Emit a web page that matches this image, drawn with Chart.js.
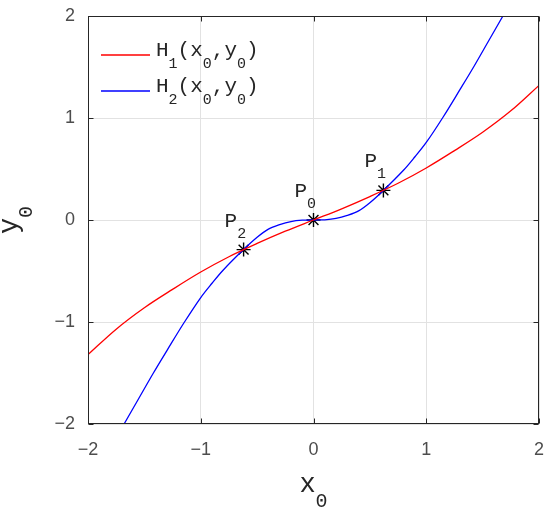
<!DOCTYPE html>
<html lang="en">
<head>
    <meta charset="UTF-8">
    <title>H1 / H2</title>
    <script src="https://cdn.jsdelivr.net/npm/chart.js"></script>
    <style>
        body { margin: 0; background: #fff; }
        #chart-container { width: 550px; height: 511px; position: relative; }
    </style>
</head>
<body>
    <div id="chart-container"><canvas id="hChart"></canvas></div>

    <script>
        const tickValues = [-2, -1, 0, 1, 2];

        // H1(x0,y0) - red
        const redX = [-2, -1.75, -1.5, -1.25, -1, -0.75, -0.5, -0.25, 0, 0.25, 0.5, 0.75, 1, 1.25, 1.5, 1.75, 2];
        const redY = [-1.32, -1.07, -0.86, -0.68, -0.51, -0.36, -0.23, -0.11, 0, 0.11, 0.23, 0.36, 0.51, 0.68, 0.86, 1.07, 1.32];

        // H2(x0,y0) - blue
        const blueX = [-1.8, -1.68, -1.55, -1.42, -1.3, -1.15, -1, -0.9, -0.8, -0.62, -0.5, -0.4, -0.3, -0.2, -0.1, 0,
                       0.1, 0.2, 0.3, 0.4, 0.5, 0.62, 0.8, 0.9, 1, 1.15, 1.3, 1.42, 1.55, 1.68, 1.8];
        const blueY = [-2.23, -2.0, -1.75, -1.5, -1.28, -1.01, -0.76, -0.62, -0.49, -0.29, -0.17, -0.09, -0.045, -0.015, -0.002, 0,
                       0.002, 0.015, 0.045, 0.09, 0.17, 0.29, 0.49, 0.62, 0.76, 1.01, 1.28, 1.5, 1.75, 2.0, 2.23];

        // intersection points P0, P1, P2
        const pointX = [0, 0.62, -0.62];
        const pointY = [0, 0.29, -0.29];
        const pointNames = ['P_0', 'P_1', 'P_2'];

        const legendNames = ['H_1(x_0,y_0)', 'H_2(x_0,y_0)'];
        const xTitle = 'x_0';
        const yTitle = 'y_0';

        const MONO = '"Liberation Mono", "DejaVu Sans Mono", monospace';
        const TEXT = '#262626';

        const toXY = (xs, ys) => xs.map((v, i) => ({ x: v, y: ys[i] }));
        const fmtTick = v => String(v).replace('-', '\u2212');

        // '_' makes the following character a subscript
        function drawRich(ctx, str, x, y, o) {
            const parts = [];
            for (let i = 0; i < str.length; i++) {
                if (str[i] === '_') { parts.push({ t: str[i + 1], sub: true }); i++; }
                else parts.push({ t: str[i], sub: false });
            }
            const mainFont = o.size + 'px ' + MONO;
            const subFont = o.subSize + 'px ' + MONO;
            let total = 0;
            parts.forEach(p => {
                ctx.font = p.sub ? subFont : mainFont;
                p.w = ctx.measureText(p.t).width;
                total += p.w;
            });
            let cx = o.center ? x - total / 2 : x;
            ctx.fillStyle = TEXT;
            ctx.textAlign = 'left';
            ctx.textBaseline = 'alphabetic';
            parts.forEach(p => {
                ctx.font = p.sub ? subFont : mainFont;
                ctx.fillText(p.t, cx, p.sub ? y + o.drop : y);
                cx += p.w;
            });
        }

        const decorations = {
            id: 'decorations',
            afterDraw(chart) {
                const { ctx, chartArea: a, scales } = chart;
                const L = Math.round(a.left) + 0.5, R = Math.round(a.right) - 0.5;
                const T = Math.round(a.top) + 0.5, B = Math.round(a.bottom) - 0.5;
                ctx.save();

                // box + inward ticks
                ctx.strokeStyle = TEXT;
                ctx.lineWidth = 1;
                ctx.strokeRect(L, T, R - L, B - T);
                ctx.beginPath();
                tickValues.forEach(v => {
                    const px = Math.round(scales.x.getPixelForValue(v)) + 0.5;
                    ctx.moveTo(px, B); ctx.lineTo(px, B - 5);
                    ctx.moveTo(px, T); ctx.lineTo(px, T + 5);
                    const py = Math.round(scales.y.getPixelForValue(v)) + 0.5;
                    ctx.moveTo(L, py); ctx.lineTo(L + 5, py);
                    ctx.moveTo(R, py); ctx.lineTo(R - 5, py);
                });
                ctx.stroke();

                // legend
                legendNames.forEach((name, i) => {
                    const ly = a.top + 39 + 36 * i;
                    ctx.strokeStyle = chart.data.datasets[i].borderColor;
                    ctx.lineWidth = 1.3;
                    ctx.beginPath();
                    ctx.moveTo(a.left + 13, ly);
                    ctx.lineTo(a.left + 62, ly);
                    ctx.stroke();
                    drawRich(ctx, name, a.left + 68, ly + 1, { size: 21, subSize: 15, drop: 12 });
                });

                // point labels
                const meta = chart.getDatasetMeta(2);
                meta.data.forEach((pt, i) => {
                    drawRich(ctx, pointNames[i], pt.x - 19, pt.y - 23, { size: 21, subSize: 15, drop: 11 });
                });

                // axis titles
                drawRich(ctx, xTitle, (a.left + a.right) / 2, a.bottom + 68, { size: 27, subSize: 20, drop: 15, center: true });
                ctx.translate(17, (a.top + a.bottom) / 2);
                ctx.rotate(-Math.PI / 2);
                drawRich(ctx, yTitle, 0, 0, { size: 27, subSize: 20, drop: 15, center: true });

                ctx.restore();
            }
        };

        const axisTicks = (pad) => ({
            padding: pad,
            color: '#4d4d4d',
            font: { family: '"Liberation Sans", Arial, sans-serif', size: 18 },
            callback: v => fmtTick(v)
        });

        new Chart(document.getElementById('hChart').getContext('2d'), {
            type: 'line',
            data: {
                datasets: [
                    {
                        label: 'H1',
                        data: toXY(redX, redY),
                        borderColor: '#ff0000',
                        borderWidth: 1.3,
                        pointRadius: 0,
                        tension: 0.35
                    },
                    {
                        label: 'H2',
                        data: toXY(blueX, blueY),
                        borderColor: '#0000ff',
                        borderWidth: 1.3,
                        pointRadius: 0,
                        tension: 0.35
                    },
                    {
                        label: 'P',
                        data: toXY(pointX, pointY),
                        showLine: false,
                        pointStyle: 'star',
                        pointRadius: 7,
                        borderColor: '#000000',
                        backgroundColor: '#000000',
                        borderWidth: 1.4
                    }
                ]
            },
            options: {
                responsive: true,
                maintainAspectRatio: false,
                animation: false,
                layout: { padding: { top: 16, right: 11, left: 0, bottom: 0 } },
                plugins: {
                    legend: { display: false },
                    tooltip: { enabled: false }
                },
                scales: {
                    x: {
                        type: 'linear',
                        min: -2,
                        max: 2,
                        afterBuildTicks: s => { s.ticks = tickValues.map(v => ({ value: v })); },
                        afterFit: s => { s.height = 87; s.paddingLeft = 0; s.paddingRight = 0; },
                        grid: { color: '#e2e2e2', drawTicks: false },
                        border: { display: false },
                        ticks: axisTicks(15)
                    },
                    y: {
                        type: 'linear',
                        min: -2,
                        max: 2,
                        afterBuildTicks: s => { s.ticks = tickValues.map(v => ({ value: v })); },
                        afterFit: s => { s.width = 88; s.paddingTop = 0; s.paddingBottom = 0; },
                        grid: { color: '#e2e2e2', drawTicks: false },
                        border: { display: false },
                        ticks: axisTicks(13)
                    }
                }
            },
            plugins: [decorations]
        });
    </script>
</body>
</html>
